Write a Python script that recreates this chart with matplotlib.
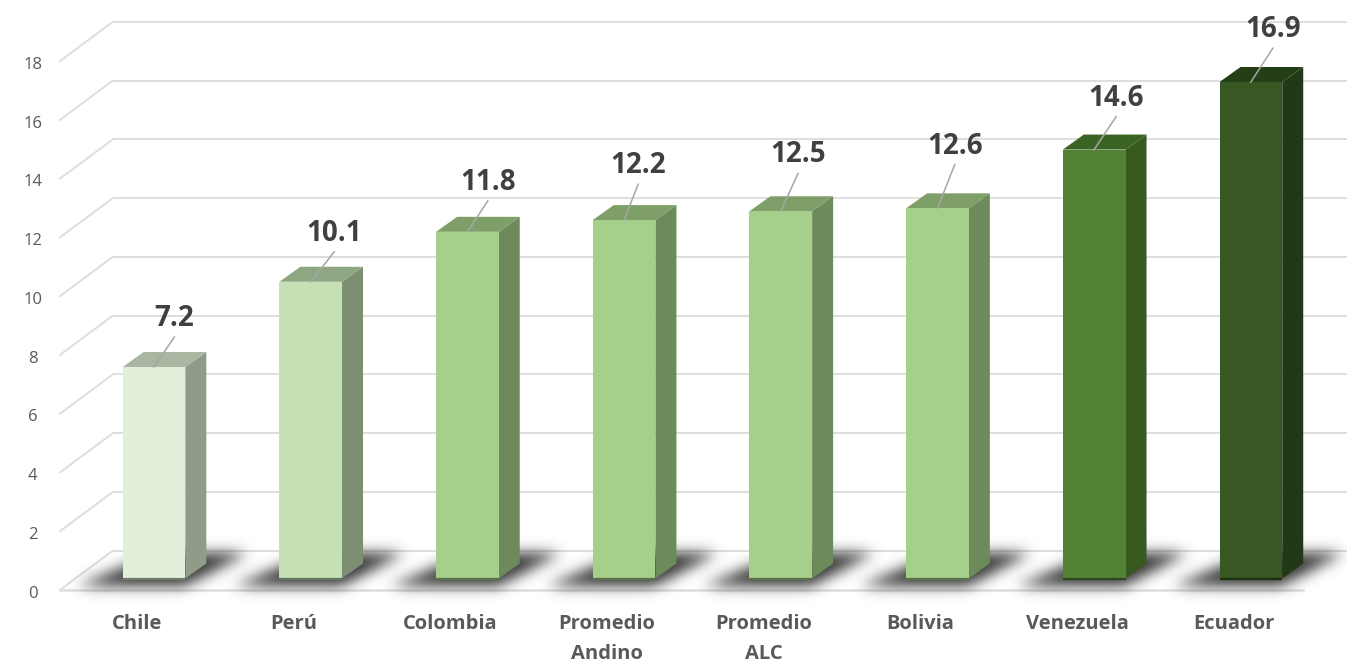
import matplotlib
matplotlib.use('Agg')
import matplotlib.pyplot as plt
import numpy as np
from matplotlib.patches import Polygon

# --- Data ---
CATEGORIES = ['Chile', 'Perú', 'Colombia', 'Promedio\nAndino', 'Promedio\nALC',
              'Bolivia', 'Venezuela', 'Ecuador']
VALUES = [7.2, 10.1, 11.8, 12.2, 12.5, 12.6, 14.6, 16.9]
Y_TICKS = [0, 2, 4, 6, 8, 10, 12, 14, 16, 18]

# --- Bar colours: front, top, side ---
FRONT_COLORS = ['#E2EFDA', '#C5E0B4', '#A6CF8C', '#A6CF8C', '#A6CF8C', '#A6CF8C', '#548235', '#385723']
TOP_COLORS = ['#A9B6A2', '#8FA682', '#7F9F69', '#7F9F69', '#7F9F69', '#7F9F69', '#3B6324', '#243F16']
SIDE_COLORS = ['#8E9C89', '#7D8F72', '#6C8A5A', '#6C8A5A', '#6C8A5A', '#6C8A5A', '#38591F', '#233816']
BASE_COLORS = ['#6F7A69', '#66745E', '#5A7049', '#5A7049', '#5A7049', '#5A7049', '#2F4A1C', '#1E3012']

# --- Label placement relative to the bar top, in axis units ---
LABEL_DX = [0.13, 0.15, 0.13, 0.09, 0.11, 0.11, 0.14, 0.14]
LABEL_DY = [1.74, 1.74, 1.77, 1.94, 2.01, 2.21, 1.84, 1.87]

# --- Axis mapping: one category is 156.7 px, one y unit is 29.38 px ---
WIDTH, HEIGHT = 1347, 664
X_UNIT, Y_UNIT = 156.7, 29.38
XLIM = (-154 / X_UNIT, (WIDTH - 154) / X_UNIT)
YLIM = ((578.5 - HEIGHT) / Y_UNIT, 578.5 / Y_UNIT)

BAR_HALF = 0.20
BAR_DX, BAR_DY = 0.134, 0.51
FLOOR_Y = -0.39
WALL_X0, WALL_X1 = -0.60, -0.263
WALL_Y = 0.946
FLOOR_RIGHT = 7.33
GRID_COLOR = '#DEDEDE'
TEXT_COLOR = '#595959'

plt.rcParams['font.family'] = ['Open Sans', 'DejaVu Sans']

fig = plt.figure(figsize=(WIDTH / 100, HEIGHT / 100), dpi=100)
ax = fig.add_axes([0, 0, 1, 1])
ax.set_xlim(XLIM)
ax.set_ylim(YLIM)
ax.axis('off')


def blur(image, sigma):
    radius = int(3 * sigma)
    kernel = np.exp(-0.5 * (np.arange(-radius, radius + 1) / sigma) ** 2)
    kernel /= kernel.sum()
    image = np.apply_along_axis(np.convolve, 0, image, kernel, mode='same')
    return np.apply_along_axis(np.convolve, 1, image, kernel, mode='same')


# Grid: back wall plus the slanted part on the left wall
for tick in Y_TICKS:
    front_y = tick + FLOOR_Y
    back_y = tick + WALL_Y
    ax.plot([WALL_X0, WALL_X1], [front_y, back_y], color=GRID_COLOR, lw=1.4, zorder=1)
    ax.plot([WALL_X1, XLIM[1]], [back_y, back_y], color=GRID_COLOR, lw=1.4, zorder=1)
    ax.text(-0.775, tick + FLOOR_Y - 0.13, str(tick), ha='center', va='center',
            fontsize=12, color=TEXT_COLOR)
ax.plot([WALL_X0, FLOOR_RIGHT], [FLOOR_Y, FLOOR_Y], color=GRID_COLOR, lw=1.8, zorder=1)

# Soft floor shadows, one slanted band for each bar
xs = np.linspace(XLIM[0], XLIM[1], WIDTH)
ys = np.linspace(YLIM[1], YLIM[0], HEIGHT)
grid_x, grid_y = np.meshgrid(xs, ys)
mask = np.zeros_like(grid_x)
for i in range(len(VALUES)):
    left = i - 0.37 + 0.46 * grid_y
    right = i + 0.29 + 0.36 * grid_y
    mask[(grid_x > left) & (grid_x < right) & (grid_y > -0.27) & (grid_y < 0.84)] = 1.0
mask = blur(mask, 7.0)
shadow = np.zeros(mask.shape + (4,))
shadow[..., :3] = 0.2
shadow[..., 3] = mask
ax.imshow(shadow, extent=(XLIM[0], XLIM[1], YLIM[0], YLIM[1]), aspect='auto', zorder=2,
          interpolation='bilinear')
ax.set_xlim(XLIM)
ax.set_ylim(YLIM)

# 3D bars: side and top faces first, then the front
for i, value in enumerate(VALUES):
    x0, x1 = i - BAR_HALF, i + BAR_HALF
    side = [(x1, 0), (x1 + BAR_DX, BAR_DY), (x1 + BAR_DX, value + BAR_DY), (x1, value)]
    top = [(x0, value), (x1, value), (x1 + BAR_DX, value + BAR_DY), (x0 + BAR_DX, value + BAR_DY)]
    ax.add_patch(Polygon(side, closed=True, fc=SIDE_COLORS[i], ec='none', zorder=3))
    ax.add_patch(Polygon(top, closed=True, fc=TOP_COLORS[i], ec='none', zorder=3))
    ax.bar(i, value, width=2 * BAR_HALF, color=FRONT_COLORS[i], zorder=4)
    ax.plot([x0, x1], [-0.03, -0.03], color=BASE_COLORS[i], lw=1.6, zorder=5,
            solid_capstyle='butt')

    # Value label with its leader line
    label_x = i + LABEL_DX[i]
    label_y = value + LABEL_DY[i]
    ax.plot([i, label_x], [value, label_y - 0.72], color='#A6A6A6', lw=1.1, zorder=6)
    ax.text(label_x, label_y - 0.09, f'{value:.1f}', ha='center', va='center', fontsize=20,
            fontweight='bold', color='#404040', zorder=7)

    # Category label, shifted left of the bar like the original axis
    ax.text(i - 0.11, -1.2, CATEGORIES[i], ha='center', va='top', fontsize=14.5,
            fontweight='bold', color=TEXT_COLOR, linespacing=1.68)

fig.savefig('out.png', dpi=100)
